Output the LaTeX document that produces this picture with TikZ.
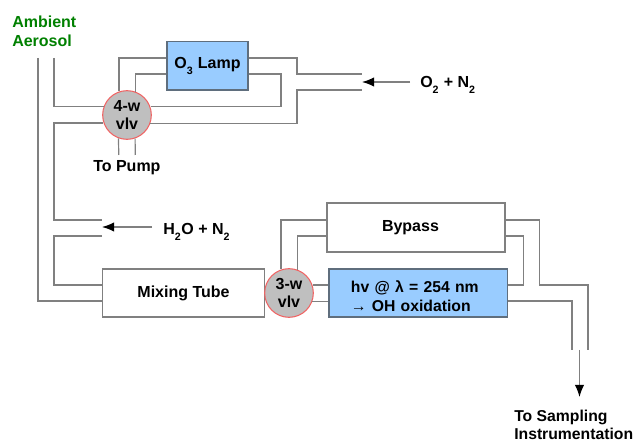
\documentclass[tikz,border=0pt]{standalone}
\usepackage{fontspec}
\setmainfont{Liberation Sans}
\usetikzlibrary{arrows.meta}
\definecolor{pipegray}{RGB}{128,128,128}
\definecolor{lampblue}{RGB}{153,204,255}
\definecolor{boxslate}{RGB}{95,110,125}
\definecolor{valvered}{RGB}{240,100,100}
\definecolor{labelgreen}{RGB}{0,128,0}
\newcommand{\gassub}[1]{\raisebox{-0.4ex}{\textsubscript{#1}}}
\tikzset{
	pipe/.style={draw=pipegray,line width=0.9pt},
	feed/.style={draw=pipegray,line width=0.9pt,-{Latex[black,length=9pt,width=7pt]}},
	box/.style={draw=pipegray,line width=0.9pt,fill=white,inner sep=0pt},
	bluebox/.style={box,draw=boxslate,fill=lampblue},
	valve/.style={circle,draw=valvered,line width=0.8pt,fill=black!25,minimum size=36.5pt,inner sep=0pt,align=center},
	txt/.style={inner sep=0pt,align=left,anchor=west},
	every node/.style={font=\fontsize{12}{14}\selectfont\bfseries}
}

\begin{document}
\begin{tikzpicture}[x=0.75pt,y=-0.75pt]
			\useasboundingbox (0,0) rectangle (636,441);

			\node[bluebox,minimum width=60.75pt,minimum height=36.4pt] (lamp) at (207.5,65.75) {O\gassub{3} Lamp};
			\node[box,minimum width=121.5pt,minimum height=36pt] (mixing) at (183.5,293) {Mixing Tube};
			\node[box,minimum width=133.5pt,minimum height=36.8pt,text width=51pt,align=left] (bypass) at (416,227.5) {Bypass};
			\node[bluebox,minimum width=134pt,minimum height=36pt,text width=101pt,align=left,font=\fontsize{11.8}{14}\selectfont\bfseries] (oxid) at (418.25,293) {\rule{0pt}{13.5pt}hv @ λ = 254 nm\\→ OH oxidation};
			\node[valve] (fourw) at (127,115) {4-w\\vlv};
			\node[valve] (threew) at (289,293) {3-w\\vlv};

			\node[txt,text=labelgreen] (ambient) at (12,31) {Ambient\\Aerosol};
			\node[txt] (pump) at (93,168) {To Pump};
			\node[txt] (oxygas) at (420,85) {O\gassub{2} + N\gassub{2}};
			\node[txt] (watergas) at (163,232) {H\gassub{2}O + N\gassub{2}};
			\node[txt,font=\fontsize{11.8}{13.5}\selectfont\bfseries] (sampling) at (514,424.5) {To Sampling\\Instrumentation};

			\coordinate (inOuter) at (38,58);
			\coordinate (inInner) at (54,58);
			\coordinate (waterTop) at (102,220);
			\coordinate (waterBot) at (102,236);
			\coordinate (waterTail) at (152,227);
			\coordinate (waterTip) at (102,227);
			\coordinate (oxyTop) at (362,74);
			\coordinate (oxyBot) at (362,90);
			\coordinate (oxyTail) at (410,82);
			\coordinate (oxyTip) at (362,82);
			\coordinate (pumpA) at (118.75,155);
			\coordinate (pumpB) at (135.25,155);
			\coordinate (outA) at (572,350);
			\coordinate (outB) at (588,350);
			\coordinate (outTail) at (579.5,350);
			\coordinate (outTip) at (579.5,397);

			\draw[pipe] (inOuter) |- (mixing.west |- 0,301);
			\draw[pipe] (inInner) |- (fourw.160.8);
			\draw[pipe] (fourw.199.2) -| (54,220) -- (waterTop);
			\draw[pipe] (waterBot) -- (54,236) -- (54,285) -- (mixing.west |- 0,285);
			\draw[pipe] (fourw.109.8) |- (lamp.west |- 0,58);
			\draw[pipe] (fourw.70.2) |- (lamp.west |- 0,74);
			\draw[pipe] (lamp.east |- 0,58) -- (297,58) |- (oxyTop);
			\draw[pipe] (lamp.east |- 0,74) -- (281,74) |- (fourw.19.2);
			\draw[pipe] (fourw.340.8) -| (297,90) -- (oxyBot);
			\draw[pipe] (fourw.250.2) -- (pumpA);
			\draw[pipe] (fourw.289.8) -- (pumpB);

			\draw[pipe] (threew.109.8) |- (bypass.west |- 0,220);
			\draw[pipe] (threew.70.2) |- (bypass.west |- 0,236);
			\draw[pipe] (threew.19.2) -- (oxid.west |- threew.19.2);
			\draw[pipe] (threew.340.8) -- (oxid.west |- threew.340.8);
			\draw[pipe] (bypass.east |- 0,220) -- (539.5,220) |- (588,285) -- (outB);
			\draw[pipe] (bypass.east |- 0,236) -- (523.7,236) |- (oxid.east |- 0,285);
			\draw[pipe] (oxid.east |- 0,301) -- (572,301) -- (outA);

			\draw[feed] (waterTail) -- (waterTip);
			\draw[feed] (oxyTail) -- (oxyTip);
			\draw[feed] (outTail) -- (outTip);
			\end{tikzpicture}
\end{document}
